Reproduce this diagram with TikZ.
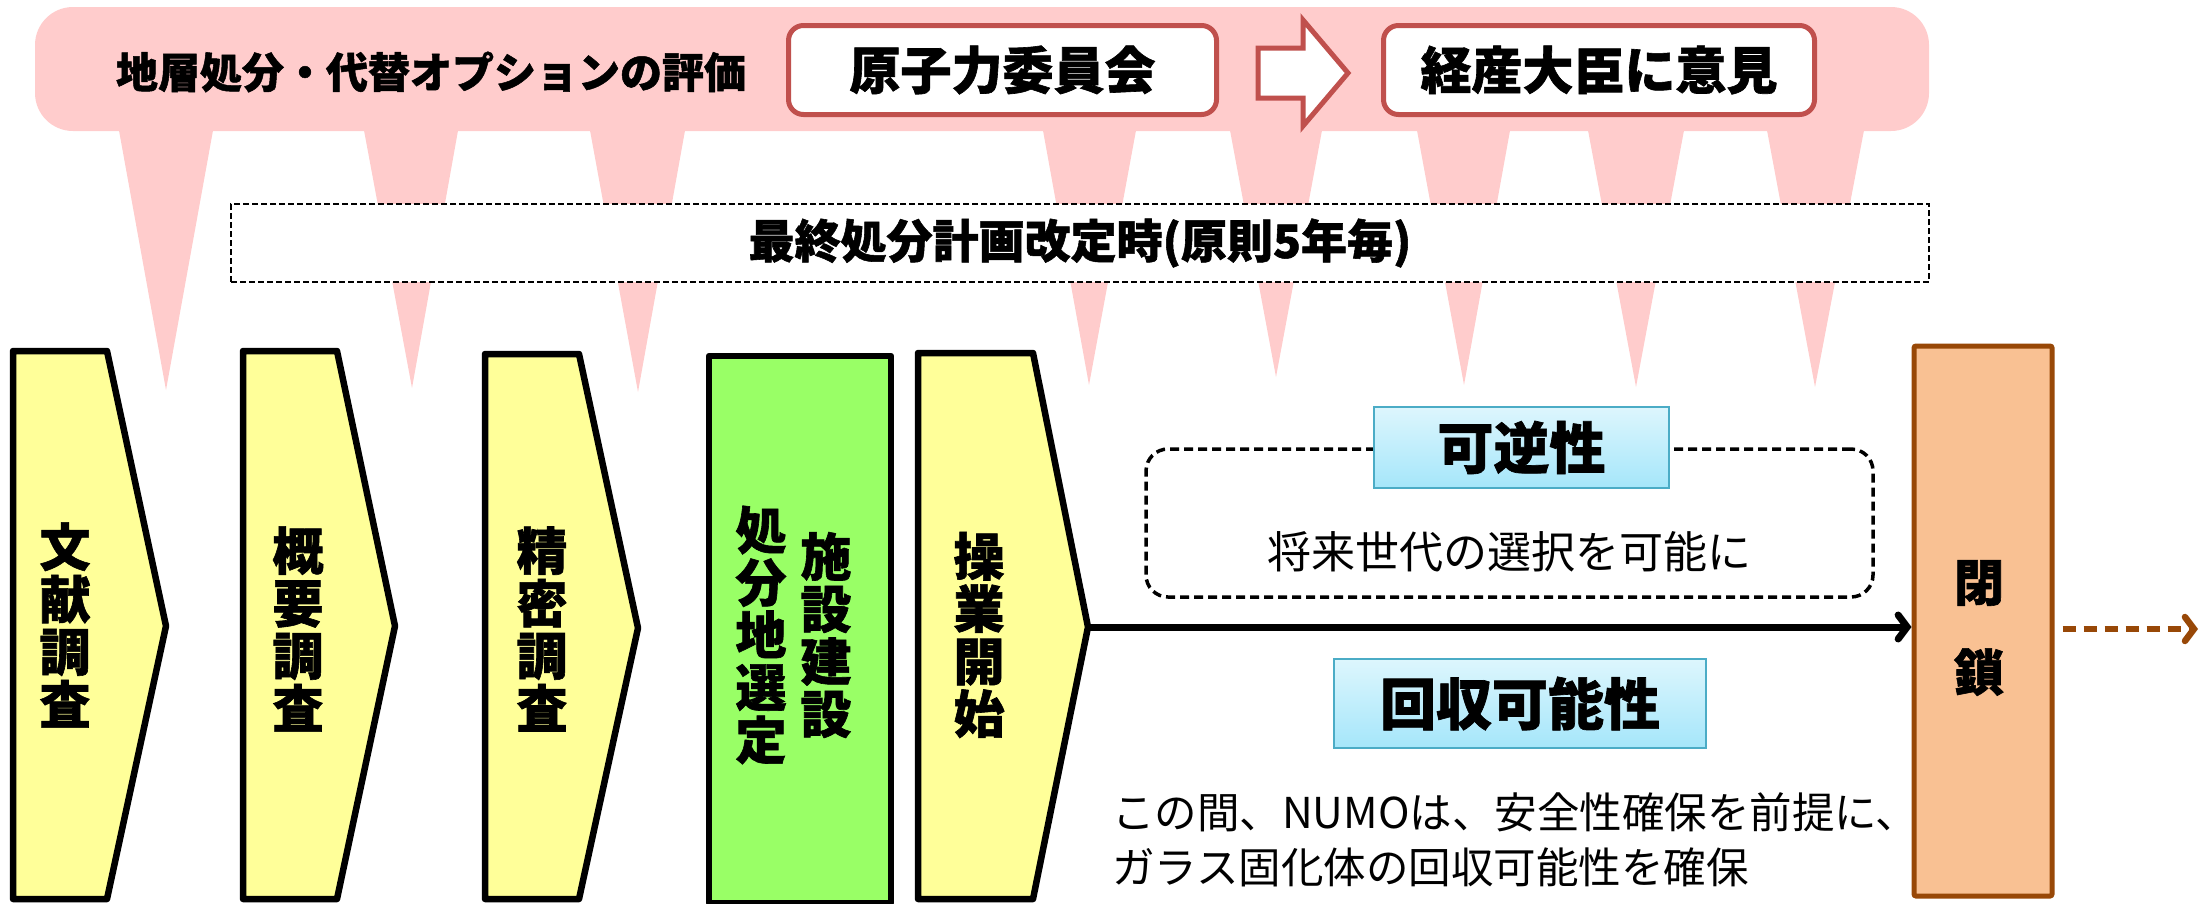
\documentclass[tikz,border=0pt]{standalone}
\usepackage{fontspec}
\setmainfont{Noto Sans CJK JP}[BoldFeatures={FakeBold=1.2}]
\usetikzlibrary{arrows.meta}
\definecolor{bandpink}{HTML}{FFCCCC}
\definecolor{boxred}{HTML}{C0504D}
\definecolor{stepyellow}{HTML}{FFFF99}
\definecolor{stepgreen}{HTML}{99FF66}
\definecolor{closeorange}{HTML}{F9C193}
\definecolor{closebrown}{HTML}{984807}
\definecolor{cyantop}{HTML}{DDF6FD}
\definecolor{cyanbot}{HTML}{A5E6FA}
\definecolor{cyanline}{HTML}{4BACC6}
\newcommand\myfs[2]{\fontsize{#1}{#2}\selectfont}
\begin{document}
\begin{tikzpicture}[x=1pt,y=-1pt,
  redbox/.style={draw=boxred,line width=5pt,fill=white,rounded corners=15pt,inner sep=0pt,font=\bfseries\myfs{51}{51}},
  stepbox/.style={draw=black,line width=6.5pt,fill=stepyellow,line join=round},
  vtext/.style={align=center,inner sep=0pt,font=\bfseries\myfs{51}{52.5}},
  cyanbox/.style={draw=cyanline,line width=2.5pt,top color=cyantop,bottom color=cyanbot,inner sep=0pt,font=\bfseries\myfs{56}{56}},
  spike/.style={fill=bandpink}
]
\useasboundingbox (0,0) rectangle (2202,903);

% pink band with spikes
\fill[bandpink, rounded corners=38pt] (35,7) rectangle (1929,131);
\foreach \a/\b/\t/\ty in {118/214/166/390, 363/459/412/388, 589/686/638/392, 1042/1137/1089/385, 1229/1323/1276/377, 1416/1511/1464/385, 1587/1685/1636/387, 1766/1865/1815/387}
  \fill[bandpink] (\a,125) -- (\b,125) -- (\t,\ty) -- cycle;

\node[inner sep=0pt,font=\bfseries\myfs{42}{42}] (eval) at (431,72) {地層処分・代替オプションの評価};
\node[redbox,minimum width=428pt,minimum height=89pt] (iinkai) at (1002.5,70) {原子力委員会};
\node[redbox,minimum width=431pt,minimum height=89pt] (keisan) at (1599,70) {経産大臣に意見};
\draw[boxred,line width=5pt,fill=white,line join=miter] (1258,48) -- (1303,48) -- (1303,20) -- (1348,73) -- (1303,126) -- (1303,98) -- (1258,98) -- cycle;

% dashed plan box
\node[draw=black,dash pattern=on 6pt off 3pt,line width=2.5pt,fill=white,minimum width=1698pt,minimum height=78pt,inner sep=0pt,font=\bfseries\myfs{46}{46}] (plan) at (1080,243) {最終処分計画改定時(原則5年毎)};

% step shapes
\draw[stepbox] (13,351) -- (107,351) -- (166,626) -- (107,899) -- (13,899) -- cycle;
\coordinate (tip1) at (166,626);
\node[vtext] (bunken) at (65,625) {文\\献\\調\\査};
\draw[stepbox] (243,351) -- (337,351) -- (395,626) -- (337,899) -- (243,899) -- cycle;
\coordinate (tip2) at (395,626);
\node[vtext] (gaiyo) at (298,629) {概\\要\\調\\査};
\draw[stepbox] (485,354) -- (579,354) -- (638,628) -- (579,899) -- (485,899) -- cycle;
\coordinate (tip3) at (638,628);
\node[vtext] (seimitsu) at (542,629) {精\\密\\調\\査};
\draw[stepbox,fill=stepgreen] (709,356) rectangle (891,903);
\node[vtext] (shobunchi) at (761,635) {処\\分\\地\\選\\定};
\node[vtext] (shisetsu) at (826,635) {施\\設\\建\\設};
\draw[stepbox] (918,353) -- (1033,353) -- (1088,627) -- (1033,899) -- (918,899) -- cycle;
\coordinate (tip5) at (1088,627);
\node[vtext] (sogyo) at (979,635) {操\\業\\開\\始};

% closure
\node[draw=closebrown,fill=closeorange,line width=5pt,minimum width=138pt,minimum height=550pt,inner sep=0pt,rounded corners=2pt] (heisa) at (1983,621) {};
\node[align=center,inner sep=0pt,font=\bfseries\myfs{50}{90}] (heisatext) at (1979,628) {閉\\鎖};
\coordinate (beyond) at (2198,629);
\draw[closebrown,line width=6.5pt,dash pattern=on 13pt off 8pt,-{Straight Barb[length=9pt,width=24pt,line cap=round]}] (heisa.east |- beyond) ++(8,0) -- (beyond);

% main arrow
\draw[line width=7pt,-{Straight Barb[length=9pt,width=24pt,line cap=round]}] (tip5) -- (tip5 -| heisa.west);

% reversibility
\node[draw=black,dash pattern=on 9pt off 5pt,line width=3.5pt,rounded corners=22pt,minimum width=727pt,minimum height=148pt,inner sep=0pt] (revframe) at (1509.5,523) {};
\node[cyanbox,minimum width=295pt,minimum height=81pt] (kagyaku) at (1521.5,447.5) {可逆性};
\node[inner sep=0pt,font=\myfs{44}{44}] (shorai) at (1509,552) {将来世代の選択を可能に};

% retrievability
\node[cyanbox,minimum width=372pt,minimum height=89pt] (kaishu) at (1520,703.5) {回収可能性};
\node[anchor=west,align=left,inner sep=0pt,font=\myfs{42.5}{55}] (numo) at (1112,840) {この間、NUMOは、安全性確保を前提に、\\ガラス固化体の回収可能性を確保};
\end{tikzpicture}
\end{document}
